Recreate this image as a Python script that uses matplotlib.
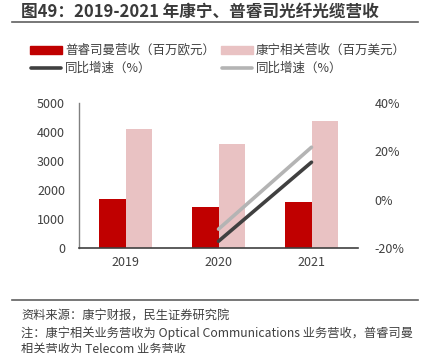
import matplotlib
matplotlib.use("Agg")
import matplotlib.pyplot as plt
from matplotlib.lines import Line2D
import numpy as np

plt.rcParams['font.family'] = ['Noto Sans CJK SC', 'DejaVu Sans']

years = ["2019", "2020", "2021"]
prysmian_rev = [1680, 1400, 1600]      # 百万欧元
corning_rev = [4090, 3590, 4380]       # 百万美元
prysmian_yoy = [None, -17.2, 15.5]     # %
corning_yoy = [None, -12.2, 21.7]      # %

title = "图49：2019-2021 年康宁、普睿司光纤光缆营收"
legend_labels = ["普睿司曼营收（百万欧元）", "康宁相关营收（百万美元）", "同比增速（%）", "同比增速（%）"]
source = "资料来源：康宁财报，民生证券研究院"
note1 = "注：康宁相关业务营收为 Optical Communications 业务营收，普睿司曼"
note2 = "相关营收为 Telecom 业务营收"

RED = "#C00000"
PINK = "#E9C2C3"
DARK = "#404040"
GRAY = "#B4B4B4"
TXT = "#404040"

W, H = 426, 353
fig = plt.figure(figsize=(W / 100, H / 100), dpi=100)

def fx(px):
    return px / W

def fy(py):
    return 1 - py / H

ax_left, ax_right, ax_top, ax_bottom = 79, 358, 103, 248
ax = fig.add_axes([fx(ax_left), fy(ax_bottom), fx(ax_right - ax_left), (ax_bottom - ax_top) / H])

x = np.arange(len(years))
bw = 0.29
ax.bar(x - bw / 2, prysmian_rev, bw, color=RED, zorder=2)
ax.bar(x + bw / 2, corning_rev, bw, color=PINK, zorder=2)
ax.set_xlim(-0.5, 2.5)
ax.set_ylim(0, 5000)
ax.set_yticks([0, 1000, 2000, 3000, 4000, 5000])
ax.set_xticks(x)
ax.set_xticklabels(years)
for s in ["top", "right"]:
    ax.spines[s].set_visible(False)
ax.spines["left"].set_color("#808080")
ax.spines["left"].set_linewidth(1.0)
ax.spines["bottom"].set_color(DARK)
ax.spines["bottom"].set_linewidth(1.2)
ax.tick_params(axis="both", length=0, labelsize=9, colors=TXT, pad=6)
ax.tick_params(axis="y", pad=10)

ax2 = ax.twinx()
ax2.set_ylim(-20, 40)
ax2.set_yticks([-20, 0, 20, 40])
ax2.set_yticklabels(["-20%", "0%", "20%", "40%"])
for s in ["top", "right", "left", "bottom"]:
    ax2.spines[s].set_visible(False)
ax2.tick_params(axis="y", length=0, labelsize=9, colors=TXT, pad=12)

xi = [i for i, v in enumerate(prysmian_yoy) if v is not None]
ax2.plot(xi, [prysmian_yoy[i] for i in xi], color=DARK, lw=2.6, solid_capstyle="round", zorder=3)
xi2 = [i for i, v in enumerate(corning_yoy) if v is not None]
ax2.plot(xi2, [corning_yoy[i] for i in xi2], color=GRAY, lw=2.6, solid_capstyle="round", zorder=3)

# Title and rules
fig.text(fx(21), fy(12), title, fontsize=12, fontweight="bold", color="#3A3A3A", va="center", ha="left")
fig.add_artist(Line2D([fx(12), fx(418)], [fy(22), fy(22)], color="#606060", lw=1.2))
fig.add_artist(Line2D([fx(12), fx(418)], [fy(300), fy(300)], color="#606060", lw=1.2))

# Legend (manual)
def legend_patch(x0, y, color, label):
    fig.add_artist(plt.Rectangle((fx(x0), fy(y + 4)), fx(32), 8 / H, color=color, transform=fig.transFigure))
    fig.text(fx(x0 + 35), fy(y), label, fontsize=9, color=TXT, va="center", ha="left")

def legend_line(x0, y, color, label):
    fig.add_artist(Line2D([fx(x0 + 1), fx(x0 + 31)], [fy(y), fy(y)], color=color, lw=2.6, solid_capstyle="round"))
    fig.text(fx(x0 + 35), fy(y), label, fontsize=9, color=TXT, va="center", ha="left")

legend_patch(30, 50, RED, legend_labels[0])
legend_patch(221, 50, PINK, legend_labels[1])
legend_line(30, 68, DARK, legend_labels[2])
legend_line(221, 68, GRAY, legend_labels[3])

# Footnotes
fig.text(fx(21), fy(316), source, fontsize=8.8, color=TXT, va="center", ha="left")
fig.text(fx(21), fy(333), note1, fontsize=8.8, color=TXT, va="center", ha="left")
fig.text(fx(21), fy(349), note2, fontsize=8.8, color=TXT, va="center", ha="left")

fig.savefig("out.png", dpi=100)
